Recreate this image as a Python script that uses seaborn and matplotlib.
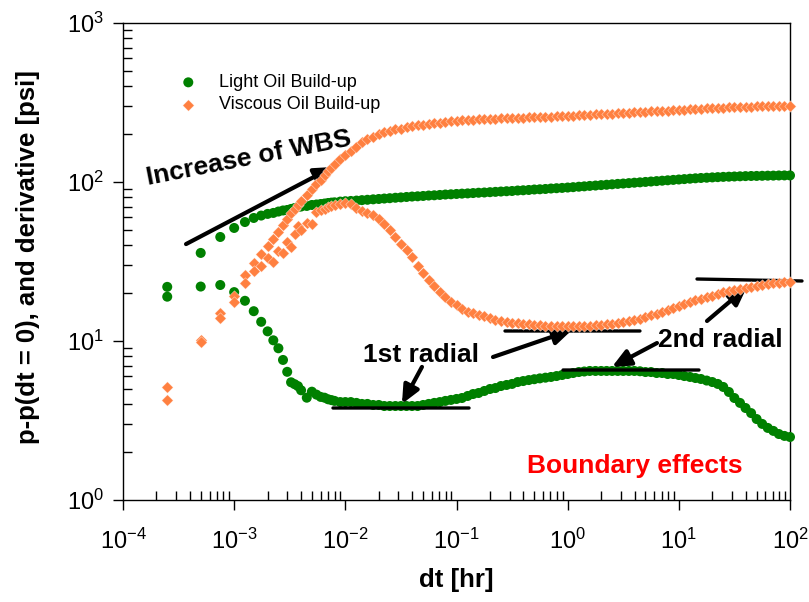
import matplotlib
matplotlib.use("Agg")
import matplotlib.pyplot as plt
import pandas as pd
import seaborn as sns
from matplotlib.ticker import LogLocator, NullFormatter

# ---------------- data ----------------
dt = [0.00025, 0.0005, 0.00075, 0.001, 0.00125, 0.0015, 0.00175, 0.002, 0.00225, 0.0025,
      0.00275, 0.003, 0.00325, 0.0035, 0.00375, 0.004, 0.0045, 0.005, 0.0055, 0.006,
      0.0065, 0.007, 0.0075, 0.008, 0.009,
      0.0100, 0.0112, 0.0126, 0.0141, 0.0158, 0.0178, 0.0200, 0.0224, 0.0251, 0.0282,
      0.0316, 0.0355, 0.0398, 0.0447, 0.0501, 0.0562, 0.0631, 0.0708, 0.0794, 0.0891,
      0.100, 0.112, 0.126, 0.141, 0.158, 0.178, 0.200, 0.224, 0.251, 0.282,
      0.316, 0.355, 0.398, 0.447, 0.501, 0.562, 0.631, 0.708, 0.794, 0.891,
      1.00, 1.12, 1.26, 1.41, 1.58, 1.78, 2.00, 2.24, 2.51, 2.82,
      3.16, 3.55, 3.98, 4.47, 5.01, 5.62, 6.31, 7.08, 7.94, 8.91,
      10.0, 11.2, 12.6, 14.1, 15.8, 17.8, 20.0, 22.4, 25.1, 28.2,
      31.6, 35.5, 39.8, 44.7, 50.1, 56.2, 63.1, 70.8, 79.4, 89.1, 100.0]

light_pressure = [21.9, 35.8, 45.1, 51.4, 56.0, 59.4, 61.5, 63.0, 63.9, 65.2,
                  66.2, 66.7, 67.7, 68.6, 69.6, 70.1, 70.7, 71.7, 72.2, 72.7,
                  73.2, 73.8, 74.2, 74.5, 75.3,
                  75.7, 76.0, 76.4, 76.9, 77.3, 77.8, 78.2, 78.7, 79.1, 79.6,
                  80.0, 80.5, 81.0, 81.3, 81.7, 82.2, 82.5, 82.9, 83.4, 83.7,
                  84.1, 84.5, 84.8, 85.2, 85.6, 85.9, 86.3, 86.7, 87.1, 87.5,
                  87.8, 88.4, 88.7, 89.1, 89.7, 90.0, 90.4, 91.0, 91.4, 91.8,
                  92.3, 92.8, 93.4, 93.9, 94.5, 95.0, 95.6, 96.1, 96.7, 97.3,
                  97.8, 98.4, 99.0, 99.5, 100.1, 100.7, 101.3, 101.9, 102.5, 103.1,
                  103.7, 104.3, 104.9, 105.5, 106.0, 106.4, 106.9, 107.3, 107.7, 108.0,
                  108.3, 108.6, 108.9, 109.1, 109.2, 109.4, 109.6, 109.7, 109.9, 110.0, 110.0]

light_derivative = [19.0, 22.0, 22.5, 20.3, 17.9, 15.4, 13.2, 11.5, 10.1, 9.0,
                    7.6, 6.4, 5.5, 5.35, 5.2, 4.9, 4.4, 4.8, 4.6, 4.45,
                    4.4, 4.3, 4.25, 4.2, 4.13,
                    4.13, 4.13, 4.08, 4.02, 4.02, 3.96, 3.96, 3.90, 3.90, 3.90,
                    3.90, 3.90, 3.90, 3.90, 3.96, 4.02, 4.08, 4.13, 4.20, 4.26,
                    4.32, 4.38, 4.51, 4.64, 4.71, 4.85, 4.99, 5.06, 5.21, 5.29,
                    5.37, 5.52, 5.60, 5.68, 5.75, 5.82, 5.88, 5.94, 6.02, 6.11,
                    6.20, 6.29, 6.38, 6.43, 6.48, 6.48, 6.48, 6.48, 6.48, 6.48,
                    6.48, 6.48, 6.48, 6.45, 6.38, 6.38, 6.29, 6.29, 6.20, 6.20,
                    6.11, 6.02, 5.94, 5.85, 5.77, 5.64, 5.52, 5.37, 5.14, 4.78,
                    4.38, 4.08, 3.79, 3.52, 3.23, 3.01, 2.84, 2.72, 2.60, 2.53, 2.49]

viscous_pressure = [5.1, 10.1, 15.0, 19.2, 26.0, 31.1, 35.4, 39.6, 43.7, 48.3,
                    53.9, 58.5, 64.0, 68.0, 72.0, 76.0, 83.0, 90.4, 97.3, 103.0,
                    111.0, 117.0, 123.0, 130.0, 139.0,
                    146.8, 157.8, 167.2, 177.2, 185.1, 191.9, 199.0, 204.8, 209.3, 213.9,
                    217.0, 220.2, 223.5, 226.7, 229.0, 231.7, 234.1, 236.1, 238.5, 240.9,
                    243.0, 244.4, 245.5, 246.5, 247.6, 248.7, 249.8, 250.5, 251.2, 252.0,
                    252.7, 253.4, 254.2, 254.9, 255.6, 256.4, 257.2, 257.9, 258.7, 259.4,
                    260.2, 261.3, 262.5, 263.6, 264.7, 265.9, 267.0, 268.2, 269.4, 270.5,
                    271.7, 272.9, 274.1, 275.3, 276.5, 277.7, 278.9, 280.1, 281.4, 282.6,
                    283.8, 285.0, 286.3, 287.5, 288.8, 290.0, 291.3, 292.6, 293.9, 294.7,
                    295.6, 296.4, 297.3, 298.2, 298.6, 299.0, 299.5, 299.9, 300.3, 300.8, 301.2]

viscous_derivative = [4.26, 9.9, 14.0, 17.6, 23.2, 27.6, 29.7, 33.2, 31.4, 36.9,
                      35.8, 42.1, 39.2, 47.2, 52.9, 49.9, 55.2, 54.4, 64.8, 66.7,
                      67.7, 69.7, 70.7, 71.7, 72.7,
                      73.8, 73.2, 68.7, 65.8, 63.9, 62.1, 58.5, 54.4, 49.9, 45.2,
                      40.8, 37.4, 33.7, 29.7, 26.7, 24.2, 22.2, 20.3, 18.9, 17.6,
                      16.8, 15.9, 15.3, 14.9, 14.6, 14.3, 13.9, 13.6, 13.4, 13.2,
                      13.0, 12.9, 12.8, 12.7, 12.6, 12.6, 12.5, 12.4, 12.4, 12.4,
                      12.4, 12.4, 12.4, 12.4, 12.5, 12.6, 12.6, 12.7, 12.8, 13.0,
                      13.2, 13.4, 13.6, 13.8, 14.2, 14.5, 14.8, 15.2, 15.7, 16.1,
                      16.6, 17.1, 17.6, 18.1, 18.5, 18.9, 19.3, 19.8, 20.2, 20.6,
                      20.9, 21.3, 21.6, 21.9, 22.2, 22.5, 22.9, 23.0, 23.2, 23.4, 23.5]

series_labels = ["Light Oil Build-up", "Viscous Oil Build-up"]
x_ticks = [1e-4, 1e-3, 1e-2, 1e-1, 1e0, 1e1, 1e2]
y_ticks = [1e0, 1e1, 1e2, 1e3]

# ---------------- style ----------------
sns.set_style("white")
plt.rcParams['font.family'] = ['Liberation Sans', 'DejaVu Sans']
plt.rcParams['mathtext.default'] = 'regular'
plt.rcParams['axes.unicode_minus'] = False
plt.rcParams['text.color'] = 'black'
plt.rcParams['axes.labelcolor'] = 'black'
plt.rcParams['xtick.color'] = 'black'
plt.rcParams['ytick.color'] = 'black'

GREEN = "#008000"
ORANGE = "#FF8040"

fig = plt.figure(figsize=(8.09, 6.02), dpi=100)
fig.patch.set_facecolor("white")
ax = fig.add_axes([123 / 809, 102 / 602, 667 / 809, 477 / 602])

df_light = pd.DataFrame({"dt": dt + dt, "value": light_pressure + light_derivative})
df_visc = pd.DataFrame({"dt": dt + dt, "value": viscous_pressure + viscous_derivative})

ax.set_xscale("log")
ax.set_yscale("log")

sns.scatterplot(data=df_light, x="dt", y="value", marker="o", s=52, color=GREEN,
                edgecolor="none", linewidth=0, label=series_labels[0], ax=ax,
                clip_on=False, zorder=3)
sns.scatterplot(data=df_visc, x="dt", y="value", marker="D", s=34, color=ORANGE,
                edgecolor="white", linewidth=0.25, label=series_labels[1], ax=ax,
                clip_on=False, zorder=4)

ax.set_xlim(1e-4, 1e2)
ax.set_ylim(1, 1e3)
ax.set_xticks(x_ticks)
ax.set_yticks(y_ticks)
ax.xaxis.set_minor_locator(LogLocator(base=10, subs=range(2, 10), numticks=20))
ax.yaxis.set_minor_locator(LogLocator(base=10, subs=range(2, 10), numticks=20))
ax.xaxis.set_minor_formatter(NullFormatter())
ax.yaxis.set_minor_formatter(NullFormatter())

ax.tick_params(which="both", bottom=True, left=True, top=False, right=False)
ax.tick_params(which="major", direction="out", length=7, width=1, labelsize=17,
               colors="black")
ax.tick_params(axis="x", which="major", pad=14)
ax.tick_params(axis="y", which="major", pad=7)
ax.tick_params(which="minor", direction="in", length=6.5, width=1, colors="black")
for sp in ax.spines.values():
    sp.set_visible(True)
    sp.set_color("black")
    sp.set_linewidth(1.0)
ax.grid(False)

ax.set_xlabel("dt [hr]", fontsize=18.5, fontweight="bold", va="center")
ax.xaxis.set_label_coords(0.5, -0.168)
ax.set_ylabel("p-p(dt = 0), and derivative [psi]", fontsize=18.5,
              fontweight="bold", va="center")
ax.yaxis.set_label_coords(-0.1424, 0.51)

leg = ax.legend(loc="upper left", bbox_to_anchor=(0.060, 0.927), frameon=False,
                fontsize=13, handlelength=1.0, handletextpad=1.2,
                labelspacing=0.3, borderpad=0.4)

# ---------------- annotations ----------------
arrow_kw = dict(arrowstyle="-|>,head_length=0.55,head_width=0.25", lw=3,
                color="black", shrinkA=0, shrinkB=0, mutation_scale=20)
line_kw = dict(arrowstyle="-", lw=2.4, color="black", shrinkA=0, shrinkB=0)

ax.annotate("", xy=(7.74e-3, 124.3), xytext=(3.69e-4, 40.7), arrowprops=arrow_kw)
ax.annotate("", xy=(0.0323, 4.02), xytext=(0.0489, 6.87), arrowprops=arrow_kw)
ax.annotate("", xy=(1.094, 11.73), xytext=(0.213, 7.93), arrowprops=arrow_kw)
ax.annotate("", xy=(2.505, 6.87), xytext=(6.36, 9.71), arrowprops=arrow_kw)
ax.annotate("", xy=(41.0, 21.86), xytext=(17.92, 13.36), arrowprops=arrow_kw)

ax.annotate("", xy=(0.1296, 3.79), xytext=(7.74e-3, 3.79), arrowprops=line_kw,
            annotation_clip=False)
ax.annotate("", xy=(4.47, 11.56), xytext=(0.2731, 11.56), arrowprops=line_kw,
            annotation_clip=False)
ax.annotate("", xy=(15.18, 6.57), xytext=(0.908, 6.57), arrowprops=line_kw,
            annotation_clip=False)
ax.annotate("", xy=(128.2, 23.85), xytext=(14.57, 24.54), arrowprops=line_kw,
            annotation_clip=False)

ax.text(1.68e-4, 95.7, "Increase of WBS", rotation=11, rotation_mode="anchor",
        ha="left", va="baseline", fontsize=19, fontweight="bold", color="black")
ax.text(0.01442, 7.38, "1st radial", ha="left", va="baseline", fontsize=19,
        fontweight="bold", color="black")
ax.text(6.49, 9.17, "2nd radial", ha="left", va="baseline", fontsize=19,
        fontweight="bold", color="black")
ax.text(0.4305, 1.478, "Boundary effects", ha="left", va="baseline", fontsize=19,
        fontweight="bold", color="red")

fig.savefig("out.png", dpi=100, facecolor="white")
